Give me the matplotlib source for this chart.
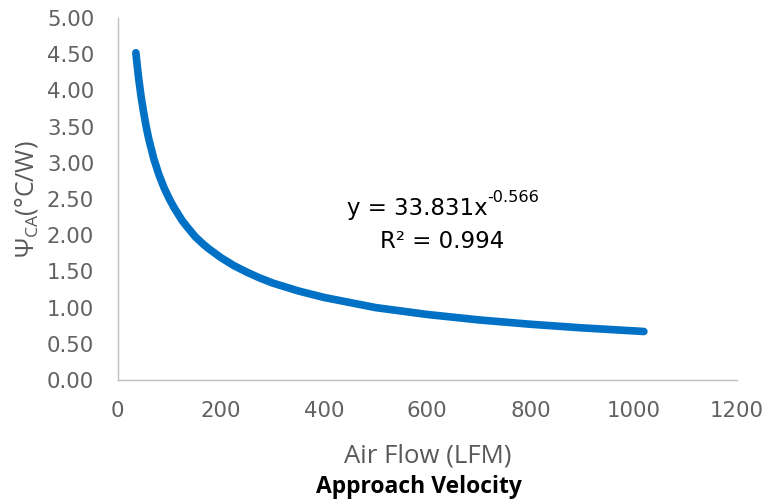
import matplotlib
matplotlib.use("Agg")
import matplotlib.pyplot as plt

# values
air_flow = [35, 40, 45, 50, 55, 60, 65, 70, 75, 80, 85, 90, 100, 110, 125, 135,
            150, 165, 175, 200, 225, 250, 275, 300, 350, 400, 450, 500, 600,
            700, 800, 900, 1020]
psi_ca = [4.52, 4.19, 3.92, 3.70, 3.50, 3.33, 3.19, 3.05, 2.94, 2.83, 2.74,
          2.65, 2.50, 2.37, 2.20, 2.11, 1.98, 1.88, 1.82, 1.69, 1.58, 1.49,
          1.41, 1.34, 1.23, 1.14, 1.07, 1.00, 0.905, 0.83, 0.77, 0.72, 0.67]

xticks = [0, 200, 400, 600, 800, 1000, 1200]
yticks = [0.0, 0.5, 1.0, 1.5, 2.0, 2.5, 3.0, 3.5, 4.0, 4.5, 5.0]

grey = "#595959"
blue = "#0071C5"
plt.rcParams['font.family'] = ['Open Sans', 'DejaVu Sans']
plt.rcParams['mathtext.fontset'] = 'custom'
plt.rcParams['mathtext.rm'] = 'Open Sans'

fig = plt.figure(figsize=(7.65, 5), dpi=100)
ax = fig.add_axes([0.154, 0.24, 0.809, 0.724])

ax.plot(air_flow, psi_ca, color=blue, lw=5.5, solid_capstyle='round',
        solid_joinstyle='round')

ax.set_xlim(0, 1200)
ax.set_ylim(0, 5)
ax.set_xticks(xticks)
ax.set_yticks(yticks)
ax.set_yticklabels([f"{v:.2f}" for v in yticks])
ax.tick_params(length=0, labelsize=15.3, colors="#626262")
ax.tick_params(axis='y', pad=17)
ax.tick_params(axis='x', pad=15)
for lab in ax.get_xticklabels() + ax.get_yticklabels():
    lab.set_family('DejaVu Sans')

for s in ['top', 'right']:
    ax.spines[s].set_visible(False)
for s in ['left', 'bottom']:
    ax.spines[s].set_color("#BFBFBF")
    ax.spines[s].set_linewidth(1)

ax.set_ylabel(r"Ψ$_{\mathrm{CA}}$(°C/W)", fontsize=18, color=grey, labelpad=5)
ax.set_xlabel("Air Flow (LFM)", fontsize=18.5, color=grey, labelpad=16)
fig.text(0.548, 0.026, "Approach Velocity", fontsize=16.5, fontweight='bold',
         ha='center', va='center', color='black')

eq = ax.text(0.597, 0.455, "y = 33.831x", transform=ax.transAxes,
             ha='right', va='baseline', fontsize=16.5, color='black',
             family='DejaVu Sans')
ax.annotate("-0.566", xy=(1, 0.66), xycoords=eq, ha='left', va='bottom',
            fontsize=11.6, color='black', family='DejaVu Sans')
ax.text(0.524, 0.365, "R² = 0.994", transform=ax.transAxes,
        ha='center', va='baseline', fontsize=16.5, color='black',
        family='DejaVu Sans')

fig.savefig("out.png", dpi=100)
